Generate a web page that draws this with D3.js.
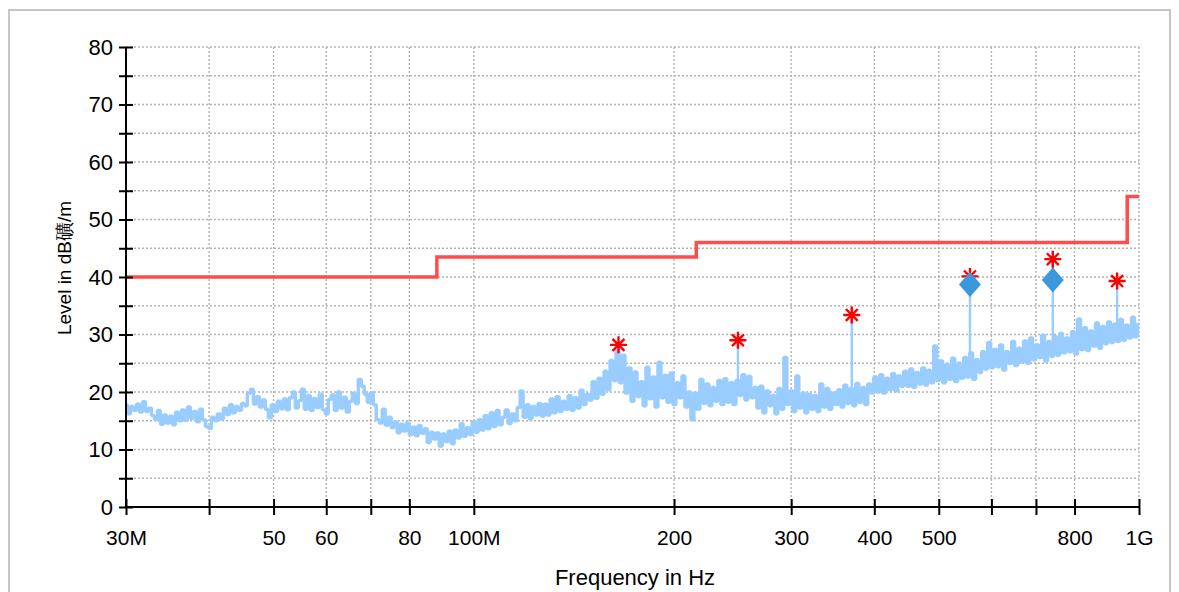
<!DOCTYPE html>
<html>
<head>
<meta charset="utf-8">
<script src="https://cdn.jsdelivr.net/npm/d3@7"></script>
<style>
  html, body { margin: 0; padding: 0; background: #fff; }
  svg { display: block; font-family: "Liberation Sans", Arial, sans-serif; }
</style>
</head>
<body>
<svg id="chart" width="1179" height="592"></svg>
<script>
// ---------------- DATA ----------------
// sweep: start/stop frequency in MHz, levels in dB (equal log-spaced sweep points)
const sweepStart = 30;
const sweepStop = 1000;
const traceLevels = [
  17.8, 16.2, 17.5, 16.8, 17.9, 16.5, 18.3, 16.6, 17.2, 15.9,
  15.2, 16.8, 14.4, 16.0, 14.6, 15.8, 14.3, 16.5, 15.0, 16.9,
  15.1, 17.4, 15.4, 16.6, 14.8, 17.0, 15.2, 14.0, 13.7, 15.6,
  15.0, 16.2, 15.3, 17.2, 16.1, 17.8, 16.4, 17.5, 16.8, 18.0,
  17.6, 19.8, 20.5, 17.9, 19.2, 17.4, 18.6, 17.0, 15.5, 17.8,
  16.6, 18.4, 17.1, 18.8, 16.9, 19.0, 20.0, 17.2, 18.5, 20.5,
  17.0, 19.4, 16.8, 18.9, 17.3, 19.6, 16.9, 16.2, 18.7, 19.5,
  16.8, 20.0, 17.2, 19.1, 16.5, 18.4, 19.8, 18.0, 22.2, 21.0,
  19.6, 18.2, 19.9, 17.8, 15.2, 14.6, 17.0, 14.2, 15.6, 13.8,
  14.8, 12.9, 14.4, 13.2, 14.6, 12.6, 13.9, 12.4, 14.2, 12.8,
  13.6, 11.2, 13.0, 11.8, 12.9, 10.6, 12.7, 11.4, 13.2, 11.0,
  13.4, 12.0, 14.5, 12.3, 13.8, 12.6, 14.8, 13.0, 15.2, 13.4,
  15.9, 13.6, 16.4, 14.0, 16.8, 14.3, 15.6, 16.9, 14.5, 16.2,
  15.0, 17.3, 20.2, 15.6, 17.8, 15.3, 17.5, 16.0, 18.0, 15.8,
  17.9, 16.0, 18.8, 16.4, 19.2, 16.6, 18.4, 17.0, 19.4, 16.8,
  19.0, 17.2, 20.3, 17.8, 19.6, 18.6, 21.8, 18.9, 22.4, 19.6,
  23.6, 20.4, 25.5, 22.0, 27.2, 21.6, 26.4, 19.8, 24.2, 18.4,
  23.5, 19.2, 21.8, 17.6, 24.3, 18.8, 22.6, 17.4, 25.2, 19.0,
  22.9, 18.2, 23.3, 17.8, 21.6, 19.0, 22.8, 17.4, 20.0, 15.2,
  19.8, 17.0, 22.2, 18.0, 21.4, 17.6, 20.8, 18.4, 22.0, 17.8,
  22.3, 18.2, 21.6, 17.8, 22.0, 19.4, 23.0, 18.6, 22.7, 19.0,
  20.8, 17.2, 21.0, 16.4, 20.2, 17.6, 19.4, 16.2, 20.6, 17.0,
  26.0, 17.8, 20.2, 16.6, 22.8, 17.2, 19.8, 16.4, 19.6, 17.0,
  19.4, 16.6, 21.4, 17.4, 20.6, 17.0, 19.8, 17.8, 20.4, 17.4,
  21.2, 18.0, 20.6, 17.6, 21.5, 18.2, 20.8, 17.8, 21.4, 19.8,
  22.6, 20.0, 23.0, 19.8, 22.4, 20.4, 23.2, 20.2, 22.8, 21.0,
  23.6, 21.0, 24.0, 20.8, 23.4, 21.4, 24.2, 21.2, 23.8, 21.6,
  28.0, 22.0, 25.4, 21.6, 24.8, 22.2, 25.9, 21.8, 25.0, 22.4,
  26.0, 22.6, 26.8, 22.2, 25.6, 23.4, 27.0, 24.0, 28.6, 24.2,
  27.4, 24.4, 28.2, 23.8, 27.0, 25.0, 28.8, 24.6, 27.6, 25.2,
  28.9, 25.0, 29.4, 25.6, 28.2, 26.0, 29.9, 25.4, 28.8, 26.2,
  29.6, 26.4, 30.2, 26.8, 29.4, 27.0, 30.5, 26.6, 32.7, 27.4,
  31.2, 27.2, 30.6, 28.0, 32.0, 27.6, 31.4, 28.4, 32.2, 28.6,
  31.8, 28.8, 32.6, 29.0, 31.6, 29.4, 33.0, 29.6, 31.8
];

// limit line (stepped)
const limitFreqs = [30, 88, 216, 960, 1000];
const limitLevels = [40, 43.5, 46, 54];

// peak markers (red asterisks)
const peakFreqs = [165, 249.5, 370, 557, 742, 927];
const peakLevels = [28.2, 29.0, 33.4, 40.1, 43.1, 39.3];

// final / quasi-peak markers (blue diamonds)
const finalFreqs = [557, 742];
const finalLevels = [38.7, 39.5];

// axes
const yTickValues = [0, 5, 10, 15, 20, 25, 30, 35, 40, 45, 50, 55, 60, 65, 70, 75, 80];
const xTickValues = [30, 40, 50, 60, 70, 80, 100, 200, 300, 400, 500, 600, 700, 800, 1000];
const xTickLabels = ["30M", "", "50", "60", "", "80", "100M", "200", "300", "400", "500", "", "", "800", "1G"];
const xTitle = "Frequency in Hz";
const yTitle = "Level in dB礦/m";

// ---------------- CHART ----------------
(function () {
const svg = d3.select("#chart");
const mLeft = 126, mRight = 1139, mTop = 47, mBottom = 507;

const x = d3.scaleLog().domain([sweepStart, sweepStop]).range([mLeft, mRight]);
const y = d3.scaleLinear().domain([0, 80]).range([mBottom, mTop]);

// frame
svg.append("rect")
  .attr("x", 9).attr("y", 10).attr("width", 1161).attr("height", 600)
  .attr("fill", "none").attr("stroke", "#c6c6c6").attr("stroke-width", 2);

// grid
const grid = svg.append("g");
grid.selectAll("line.h").data(yTickValues.filter(v => v > 0)).join("line")
  .attr("x1", mLeft).attr("x2", mRight)
  .attr("y1", d => y(d)).attr("y2", d => y(d))
  .attr("stroke", "#b2b2b2").attr("stroke-width", 1.4).attr("stroke-dasharray", "2,2");
grid.selectAll("line.v").data(xTickValues.slice(1)).join("line")
  .attr("x1", d => x(d)).attr("x2", d => x(d))
  .attr("y1", mTop).attr("y2", mBottom)
  .attr("stroke", "#b2b2b2").attr("stroke-width", 1.4).attr("stroke-dasharray", "2,2");

// trace
const n = traceLevels.length;
const lx = d3.scaleLinear().domain([0, n - 1]).range([Math.log10(sweepStart), Math.log10(sweepStop)]);
const traceData = traceLevels.map((v, i) => [Math.pow(10, lx(i)), v]);
svg.append("path")
  .datum(traceData)
  .attr("fill", "none")
  .attr("stroke", "#99ccff")
  .attr("stroke-width", 3.4)
  .attr("stroke-linejoin", "bevel")
  .attr("d", d3.line().x(d => x(d[0])).y(d => y(d[1])).curve(d3.curveStep));

// stems from markers down to trace
const traceAt = f => {
  const i = Math.round(lx.invert(Math.log10(f)));
  return traceLevels[Math.max(0, Math.min(n - 1, i))];
};
svg.append("g").selectAll("line").data(peakFreqs.map((f, i) => [f, peakLevels[i]])).join("line")
  .attr("x1", d => x(d[0])).attr("x2", d => x(d[0]))
  .attr("y1", d => y(d[1])).attr("y2", d => y(traceAt(d[0])))
  .attr("stroke", "#99ccff").attr("stroke-width", 2.4);

// limit line
const limitData = [];
limitLevels.forEach((v, i) => { limitData.push([limitFreqs[i], v]); limitData.push([limitFreqs[i + 1], v]); });
svg.append("path")
  .datum(limitData)
  .attr("fill", "none")
  .attr("stroke", "#ff4d4d")
  .attr("stroke-width", 3.5)
  .attr("d", d3.line().x(d => x(d[0])).y(d => y(d[1])));

// axes
const yAxis = d3.axisLeft(y).tickValues(yTickValues).tickSize(7).tickPadding(6)
  .tickFormat(d => d % 10 === 0 ? d : "");
const gy = svg.append("g").attr("transform", `translate(${mLeft},0)`).call(yAxis);
gy.select(".domain").attr("stroke", "#000").attr("stroke-width", 2).attr("d", `M0,${mBottom}V${mTop}`);
gy.selectAll(".tick line").attr("x1", 7).attr("x2", -7).attr("stroke", "#000").attr("stroke-width", 2);
gy.selectAll(".tick text").attr("font-size", 22).attr("fill", "#000").attr("font-family", "Liberation Sans, Arial, sans-serif");

const xAxis = d3.axisBottom(x).tickValues(xTickValues).tickSize(8).tickPadding(15)
  .tickFormat((d, i) => xTickLabels[i]);
const gx = svg.append("g").attr("transform", `translate(0,${mBottom})`).call(xAxis);
gx.select(".domain").attr("stroke", "#000").attr("stroke-width", 2).attr("d", `M${mLeft},0H${mRight}`);
gx.selectAll(".tick line").attr("y1", -8).attr("y2", 8).attr("stroke", "#000").attr("stroke-width", 2);
gx.selectAll(".tick text").attr("font-size", 21).attr("fill", "#000").attr("font-family", "Liberation Sans, Arial, sans-serif");

// titles
svg.append("text").attr("x", 635).attr("y", 585).attr("text-anchor", "middle")
  .attr("font-size", 22).attr("fill", "#000").text(xTitle);
svg.append("text").attr("transform", "translate(71,268) rotate(-90)").attr("text-anchor", "middle")
  .attr("font-size", 19).attr("fill", "#000").text(yTitle);

// asterisks
const ast = 8.5;
const astPath = `M${-ast},0H${ast}M0,${-ast}V${ast}M${-ast*0.7},${-ast*0.7}L${ast*0.7},${ast*0.7}M${-ast*0.7},${ast*0.7}L${ast*0.7},${-ast*0.7}`;
svg.append("g").selectAll("path").data(peakFreqs.map((f, i) => [f, peakLevels[i]])).join("path")
  .attr("transform", d => `translate(${x(d[0])},${y(d[1])})`)
  .attr("d", astPath)
  .attr("stroke", "#ff0000").attr("stroke-width", 2.4).attr("fill", "none");

// diamonds
svg.append("g").selectAll("path").data(finalFreqs.map((f, i) => [f, finalLevels[i]])).join("path")
  .attr("transform", d => `translate(${x(d[0])},${y(d[1])})`)
  .attr("d", "M0,-12.5L11,0L0,12.5L-11,0Z")
  .attr("fill", "#3b98dc");
})();
</script>
</body>
</html>
